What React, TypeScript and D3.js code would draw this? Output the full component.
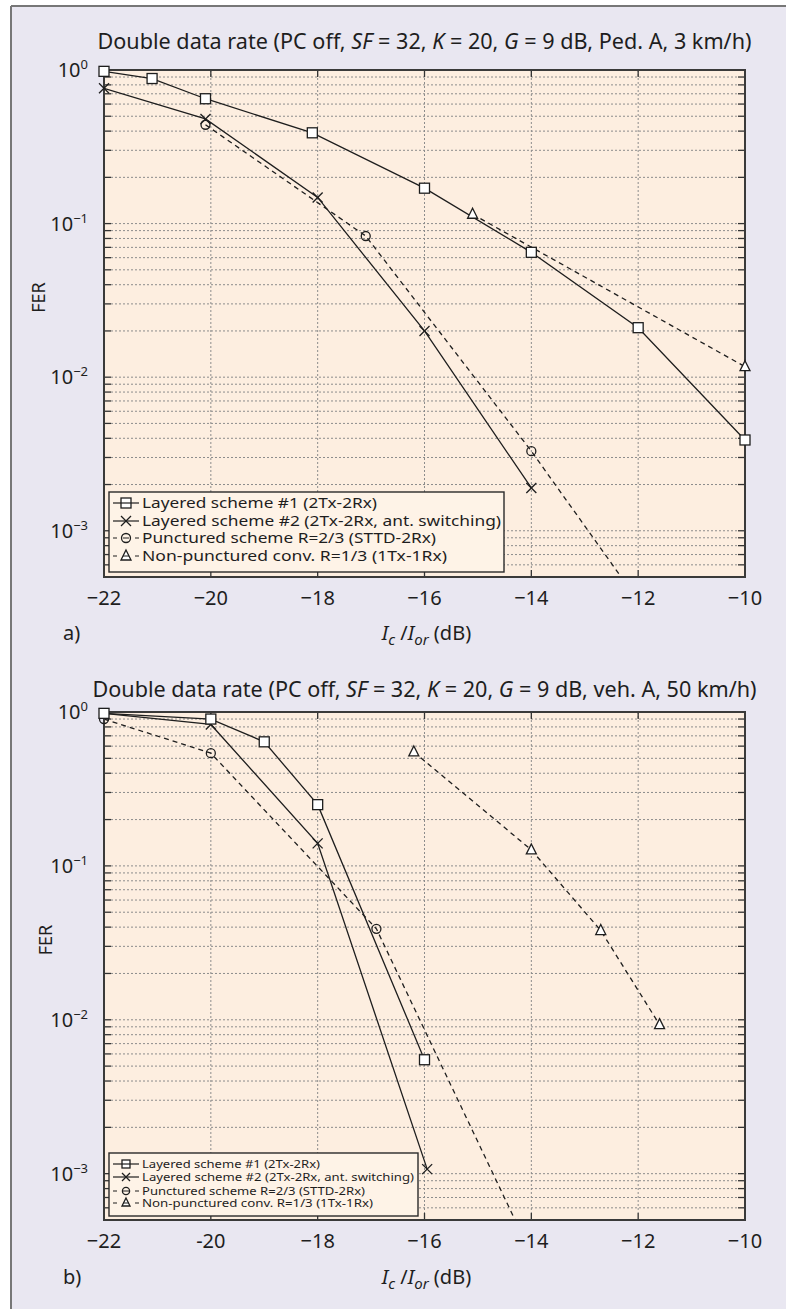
import React from "react";
import * as d3 from "d3";

const W = 786;
const H = 1309;
const X0 = 104;
const X1 = 745;

const xTicks = [-22, -20, -18, -16, -14, -12, -10];
const xTickLabelsA = ["−22", "−20", "−18", "−16", "−14", "−12", "−10"];
const xTickLabelsB = ["−22", "-20", "−18", "−16", "−14", "−12", "−10"];
const yDecades = [1, 0.1, 0.01, 0.001];
const yExponents = ["0", "−1", "−2", "−3"];
const yMin = 5e-4;

const legendLabels = [
  "Layered scheme #1 (2Tx-2Rx)",
  "Layered scheme #2 (2Tx-2Rx, ant. switching)",
  "Punctured scheme R=2/3 (STTD-2Rx)",
  "Non-punctured conv. R=1/3 (1Tx-1Rx)",
];
const markers = ["square", "cross", "circle", "triangle"];
const dashed = [false, false, true, true];

// panel a: Ped. A, 3 km/h
const aLayered1X = [-22, -21.1, -20.1, -18.1, -16, -14, -12, -10];
const aLayered1Y = [0.98, 0.88, 0.65, 0.39, 0.17, 0.065, 0.021, 0.0039];
const aLayered2X = [-22, -20.1, -18, -16, -14];
const aLayered2Y = [0.76, 0.48, 0.148, 0.02, 0.0019];
const aPuncturedX = [-20.1, -17.1, -14, -12];
const aPuncturedY = [0.44, 0.083, 0.0033, 0.00035];
const aNonPuncX = [-15.1, -10];
const aNonPuncY = [0.115, 0.0117];

// panel b: veh. A, 50 km/h
const bLayered1X = [-22, -20, -19, -18, -16];
const bLayered1Y = [0.98, 0.9, 0.64, 0.25, 0.0055];
const bLayered2X = [-22, -20, -18, -15.95];
const bLayered2Y = [0.98, 0.83, 0.14, 0.00107];
const bPuncturedX = [-22, -20, -16.9, -14];
const bPuncturedY = [0.9, 0.54, 0.039, 0.0003];
const bNonPuncX = [-16.2, -14, -12.7, -11.6];
const bNonPuncY = [0.55, 0.127, 0.038, 0.0093];

const FONT = "'Noto Sans', 'Open Sans', sans-serif";
const INK = "#1e1e1e";

function Marker({ type, x, y, s }) {
  const h = s / 2;
  if (type === "square")
    return <rect x={x - h} y={y - h} width={s} height={s} fill="#fff" stroke={INK} strokeWidth={1.3} />;
  if (type === "cross")
    return (
      <g stroke={INK} strokeWidth={1.3}>
        <line x1={x - h} y1={y - h} x2={x + h} y2={y + h} />
        <line x1={x - h} y1={y + h} x2={x + h} y2={y - h} />
      </g>
    );
  if (type === "circle")
    return <circle cx={x} cy={y} r={h * 0.9} fill="none" stroke={INK} strokeWidth={1.3} />;
  return (
    <path
      d={`M${x},${y - h - 1}L${x + h},${y + h - 1}L${x - h},${y + h - 1}Z`}
      fill="#fff"
      stroke={INK}
      strokeWidth={1.3}
    />
  );
}

function Panel({ id, top, bottom, title, titleY, titleLen, series, tickLabels, tickY, xlabelY, letter, legend, ylabelX }) {
  const x = d3.scaleLinear().domain([-22, -10]).range([X0, X1]);
  const y = d3.scaleLog().domain([1, yMin]).range([top, bottom]);
  const line = d3
    .line()
    .x((d) => x(d[0]))
    .y((d) => y(d[1]));

  const minor = [];
  [1e-4, 1e-3, 1e-2, 1e-1].forEach((d) => {
    for (let k = 1; k <= 9; k++) {
      const v = d * k;
      if (v >= yMin * 0.999 && v <= 1.0001) minor.push(v);
    }
  });
  minor.push(1);

  return (
    <g>
      <defs>
        <clipPath id={id}>
          <rect x={X0} y={top} width={X1 - X0} height={bottom - top} />
        </clipPath>
      </defs>
      <rect x={X0} y={top} width={X1 - X0} height={bottom - top} fill="#fdeee0" />
      {/* grid */}
      <g stroke="#8c8c8c" strokeWidth={1} strokeDasharray="2,2">
        {minor.map((v, i) => (
          <line key={"h" + i} x1={X0 + 7} x2={X1 - 7} y1={y(v)} y2={y(v)} />
        ))}
        {xTicks.slice(1, -1).map((t) => (
          <line key={"v" + t} x1={x(t)} x2={x(t)} y1={top} y2={bottom - 7} />
        ))}
      </g>
      {/* ticks */}
      <g stroke="#333" strokeWidth={1.3}>
        {minor.map((v, i) => (
          <g key={"t" + i}>
            <line x1={X0} x2={X0 + 7} y1={y(v)} y2={y(v)} />
            <line x1={X1 - 7} x2={X1} y1={y(v)} y2={y(v)} />
          </g>
        ))}
        {xTicks.map((t) => (
          <g key={"xt" + t}>
            <line x1={x(t)} x2={x(t)} y1={bottom} y2={bottom - 7} />
            <line x1={x(t)} x2={x(t)} y1={top} y2={top + 7} />
          </g>
        ))}
      </g>
      {/* series lines */}
      <g clipPath={`url(#${id})`} fill="none" stroke={INK} strokeWidth={1.3}>
        {series.map((s, i) => (
          <path key={i} d={line(s.xs.map((v, j) => [v, s.ys[j]]))} strokeDasharray={dashed[i] ? "5,4" : null} />
        ))}
      </g>
      <rect x={X0} y={top} width={X1 - X0} height={bottom - top} fill="none" stroke="#3a3a3a" strokeWidth={2} />
      {/* markers, squares on top */}
      {series
        .map((s, i) => ({ s, i }))
        .reverse()
        .map(({ s, i }) =>
          s.xs.map((v, j) =>
            s.ys[j] >= yMin ? <Marker key={i + "-" + j} type={markers[i]} x={x(v)} y={y(s.ys[j])} s={10} /> : null
          )
        )}
      {/* legend */}
      <rect x={legend.x} y={legend.y} width={legend.w} height={legend.h} fill="#fef3e7" stroke="#2a2a2a" strokeWidth={1.4} />
      {legendLabels.map((lab, i) => {
        const ry = legend.rows[i];
        return (
          <g key={"lg" + i}>
            <Marker type={markers[i]} x={legend.x + 17} y={ry} s={legend.ms} />
            <line
              x1={legend.x + 4}
              x2={legend.x + 30}
              y1={ry}
              y2={ry}
              stroke={INK}
              strokeWidth={1.2}
              strokeDasharray={dashed[i] ? "4,6,6,6,4" : null}
            />
            <text
              x={legend.x + 33}
              y={ry + legend.fs * 0.36}
              fontSize={legend.fs}
              fontFamily={FONT}
              fill={INK}
              textLength={legend.lens[i]}
              lengthAdjust="spacingAndGlyphs"
            >
              {lab}
            </text>
          </g>
        );
      })}
      {/* tick labels */}
      {xTicks.map((t, i) => (
        <text key={"xl" + t} x={x(t)} y={tickY} textAnchor="middle" fontSize={20} fontFamily={FONT} fill={INK}>
          {tickLabels[i]}
        </text>
      ))}
      {yDecades.map((v, i) => (
        <text key={"yl" + i} x={88} y={y(v) + 7} textAnchor="end" fontSize={20} fontFamily={FONT} fill={INK}>
          <tspan>10</tspan>
          <tspan dy={-8} fontSize={13}>
            {yExponents[i]}
          </tspan>
        </text>
      ))}
      <text
        transform={`translate(${ylabelX},${(top + bottom) / 2 - 26}) rotate(-90)`}
        textAnchor="middle"
        fontSize={18}
        fontFamily={FONT}
        fill={INK}
      >
        FER
      </text>
      {/* title */}
      <text
        x={(X0 + X1) / 2}
        y={titleY}
        textAnchor="middle"
        fontSize={21}
        fontFamily={FONT}
        fill={INK}
        textLength={titleLen}
        lengthAdjust="spacingAndGlyphs"
      >
        {title}
      </text>
      {/* x label */}
      <text x={(X0 + X1) / 2 + 2} y={xlabelY} textAnchor="middle" fontSize={20} fontFamily={FONT} fill={INK}>
        <tspan fontStyle="italic">I</tspan>
        <tspan fontStyle="italic" fontSize={15} dy={5}>c</tspan>
        <tspan dy={-5}> /</tspan>
        <tspan fontStyle="italic">I</tspan>
        <tspan fontStyle="italic" fontSize={15} dy={5}>or</tspan>
        <tspan dy={-5}> (dB)</tspan>
      </text>
      <text x={63} y={xlabelY} fontSize={20} fontFamily={FONT} fill={INK}>
        {letter}
      </text>
    </g>
  );
}

function TitleA() {
  return (
    <>
      Double data rate (PC off, <tspan fontStyle="italic">SF</tspan> = 32, <tspan fontStyle="italic">K</tspan> = 20,{" "}
      <tspan fontStyle="italic">G</tspan> = 9 dB, Ped. A, 3 km/h)
    </>
  );
}
function TitleB() {
  return (
    <>
      Double data rate (PC off, <tspan fontStyle="italic">SF</tspan> = 32, <tspan fontStyle="italic">K</tspan> = 20,{" "}
      <tspan fontStyle="italic">G</tspan> = 9 dB, veh. A, 50 km/h)
    </>
  );
}

export default function App() {
  const seriesA = [
    { xs: aLayered1X, ys: aLayered1Y },
    { xs: aLayered2X, ys: aLayered2Y },
    { xs: aPuncturedX, ys: aPuncturedY },
    { xs: aNonPuncX, ys: aNonPuncY },
  ];
  const seriesB = [
    { xs: bLayered1X, ys: bLayered1Y },
    { xs: bLayered2X, ys: bLayered2Y },
    { xs: bPuncturedX, ys: bPuncturedY },
    { xs: bNonPuncX, ys: bNonPuncY },
  ];
  return (
    <svg width={W} height={H} style={{ position: "absolute", left: 0, top: 0 }}>
      <rect x={0} y={0} width={W} height={H} fill="#fff" />
      <rect x={11} y={6} width={W - 11} height={H - 6} fill="#e9e7f1" />
      <line x1={11} y1={6} x2={W} y2={6} stroke="#777" strokeWidth={2} />
      <line x1={11} y1={6} x2={11} y2={H} stroke="#777" strokeWidth={2} />
      <Panel
        id="clipA"
        top={70}
        bottom={577}
        title={<TitleA />}
        titleY={49}
        titleLen={654}
        series={seriesA}
        tickLabels={xTickLabelsA}
        tickY={605}
        xlabelY={640}
        letter="a)"
        ylabelX={45}
        legend={{ x: 109, y: 492, w: 395, h: 80, rows: [503, 521, 538, 556], fs: 15, ms: 10, lens: [235, 359, 294, 305] }}
      />
      <Panel
        id="clipB"
        top={712}
        bottom={1220}
        title={<TitleB />}
        titleY={697}
        titleLen={664}
        series={seriesB}
        tickLabels={xTickLabelsB}
        tickY={1248}
        xlabelY={1284}
        letter="b)"
        ylabelX={52}
        legend={{ x: 109, y: 1153, w: 309, h: 63, rows: [1164, 1177, 1191, 1203], fs: 11, ms: 8, lens: [178, 272, 223, 231] }}
      />
    </svg>
  );
}
